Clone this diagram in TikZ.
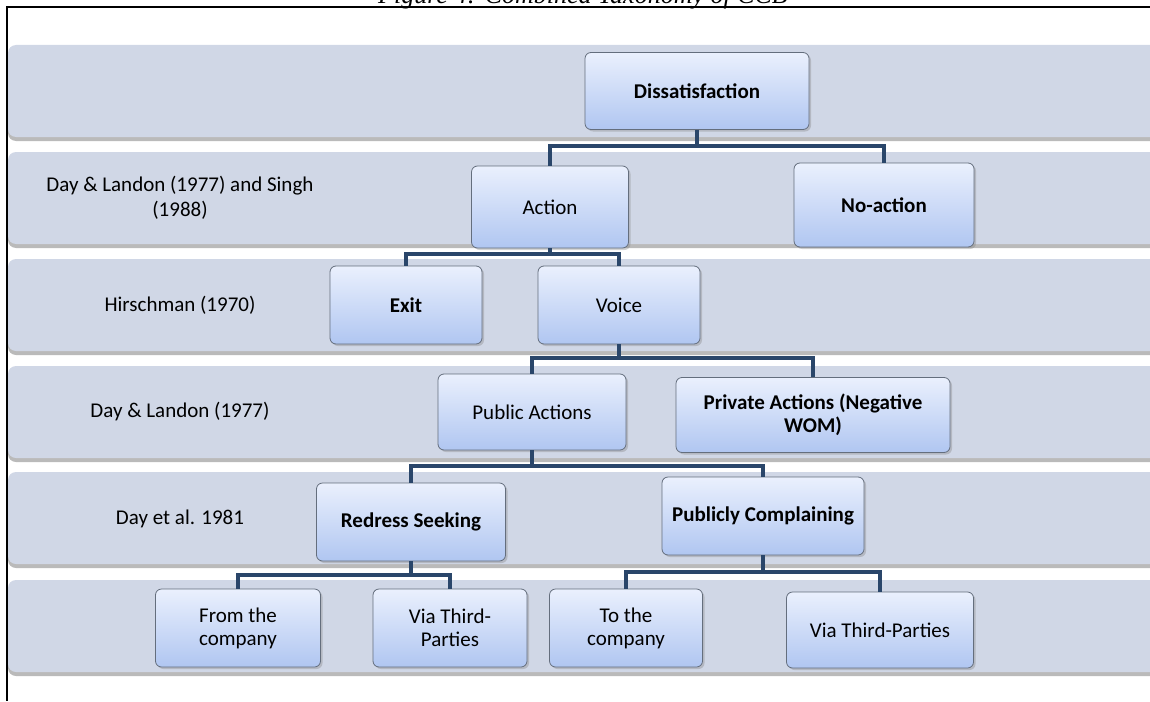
\documentclass[tikz,border=0pt]{standalone}
\usepackage{fontspec}
\setmainfont{Carlito}
\newfontfamily\capfont{Liberation Serif}
\usetikzlibrary{positioning,shadows}
\definecolor{bandfill}{RGB}{208,215,230}
\definecolor{boxtop}{RGB}{234,240,253}
\definecolor{boxbot}{RGB}{176,198,241}
\definecolor{boxline}{RGB}{100,110,125}
\definecolor{linkcol}{RGB}{42,70,106}
\tikzset{
  band/.style={fill=bandfill, rounded corners=4pt, drop shadow={shadow xshift=0pt, shadow yshift=-2pt, fill=black!45, opacity=.6}},
  box/.style={draw=boxline, rounded corners=3pt, top color=boxtop, bottom color=boxbot, align=center, inner sep=2pt, minimum height=39pt, font=\fontsize{10.5}{11.5}\selectfont, drop shadow={shadow xshift=1pt, shadow yshift=-1pt, opacity=.35}},
  hl/.style={font=\fontsize{10.5}{11.5}\selectfont\bfseries},
  lab/.style={align=center, font=\fontsize{10.5}{12.5}\selectfont},
  link/.style={draw=linkcol, line width=2pt},
  elbow/.style={to path={-- ++(0,-#1) -| (\tikztotarget)}}
}
\begin{document}
\begin{tikzpicture}[x=0.5pt, y=-0.5pt]
  \useasboundingbox (0,0) rectangle (1150,701);
  \node (title) [anchor=base, font=\capfont\itshape\fontsize{13}{15}\selectfont] at (583,3.5) {Figure 4: Combined Taxonomy of CCB};
  \draw[line width=0.75pt] (1150,7) -- (7,7) -- (7,701);
  \foreach \y in {45,152,259,366,472,580}
    \fill[band] (8,\y) rectangle (1170,\y+92);
  \coordinate (r1) at (180,91);
  \node (r2) [lab, below of=r1, node distance=53.5pt] {Day \& Landon (1977) and Singh\\(1988)};
  \node (r3) [lab, below of=r2, node distance=53.5pt] {Hirschman (1970)};
  \node (r4) [lab, below of=r3, node distance=53.5pt] {Day \& Landon (1977)};
  \node (r5) [lab, below of=r4, node distance=53.5pt] {Day et al. 1981};
  \node (r6) [coordinate, below of=r5, node distance=53.5pt] {};
  \node (diss) [box, hl, minimum width=112pt, minimum height=38.5pt, right of=r1, node distance=258.5pt] {Dissatisfaction};
  \node (action) [box, minimum width=78.5pt, minimum height=41pt, right of=r2, node distance=185pt, yshift=-4.5pt] {Action};
  \node (noaction) [box, hl, minimum width=90pt, minimum height=42pt, right of=r2, node distance=352pt, yshift=-3.5pt] {No-action};
  \node (exit) [box, hl, minimum width=76pt, right of=r3, node distance=113pt] {Exit};
  \node (voice) [box, minimum width=81pt, right of=r3, node distance=219.5pt] {Voice};
  \node (public) [box, minimum width=94pt, minimum height=38pt, right of=r4, node distance=176pt] {Public Actions};
  \node (private) [box, hl, minimum width=137pt, minimum height=37.5pt, right of=r4, node distance=316.5pt, yshift=-1.5pt] {Private Actions (Negative\\WOM)};
  \node (redress) [box, hl, minimum width=94.5pt, right of=r5, node distance=115.5pt, yshift=-1.5pt] {Redress Seeking};
  \node (publicly) [box, hl, minimum width=101pt, right of=r5, node distance=291.5pt, yshift=1.5pt] {Publicly Complaining};
  \node (fromco) [box, minimum width=82.5pt, right of=r6, node distance=29pt, yshift=-1pt] {From the\\company};
  \node (viaa) [box, minimum width=77pt, right of=r6, node distance=135pt, yshift=-1pt] {Via Third-\\Parties};
  \node (toco) [box, minimum width=76.5pt, right of=r6, node distance=223pt, yshift=-1pt] {To the\\company};
  \node (viab) [box, minimum width=93.5pt, minimum height=38pt, right of=r6, node distance=350pt, yshift=-2pt] {Via Third-Parties};
  \path[link] (diss.south) edge[elbow=8pt] (action.north) edge[elbow=8pt] (noaction.north);
  \path[link] (action.south) edge[elbow=3pt] (exit.north) edge[elbow=3pt] (voice.north);
  \path[link] (voice.south) edge[elbow=7pt] (public.north) edge[elbow=7pt] (private.north);
  \path[link] (public.south) edge[elbow=8pt] (redress.north) edge[elbow=8pt] (publicly.north);
  \path[link] (redress.south) edge[elbow=7pt] (fromco.north) edge[elbow=7pt] (viaa.north);
  \path[link] (publicly.south) edge[elbow=8.5pt] (toco.north) edge[elbow=8.5pt] (viab.north);
\end{tikzpicture}
\end{document}
